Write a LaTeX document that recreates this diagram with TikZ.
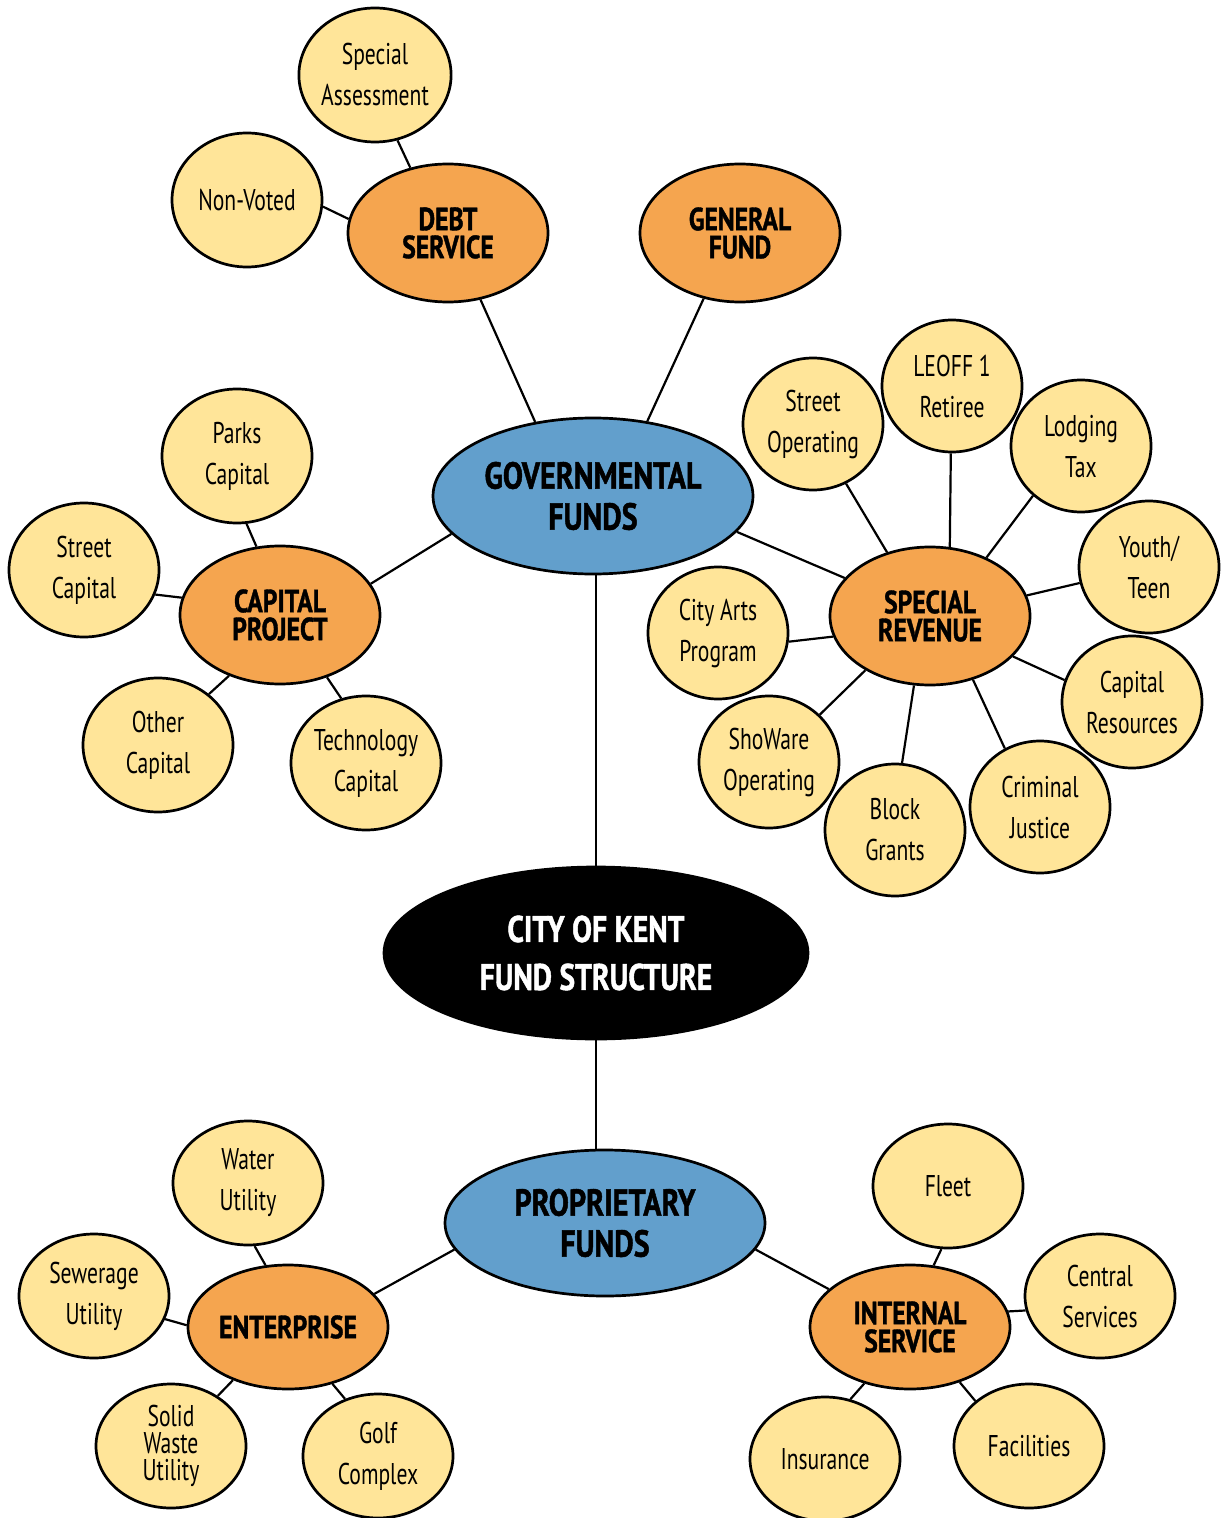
\documentclass[tikz,border=0pt]{standalone}
\usepackage{fontspec}
\setmainfont{PT Sans}[FakeStretch=0.72]
\newfontfamily\hdrfont{PT Sans}[FakeStretch=0.8,FakeBold=1.2]
\usepackage{tikz}
\usetikzlibrary{shapes.geometric}

\definecolor{leafyellow}{HTML}{FFE599}
\definecolor{suborange}{HTML}{F5A54F}
\definecolor{fundblue}{HTML}{629FCC}

\begin{document}
\begin{tikzpicture}[x=0.5pt,y=-0.5pt,
  every node/.style={ellipse,draw=black,line width=1.35pt,inner sep=0pt,align=center},
  leafnode/.style={fill=leafyellow,minimum width=75pt,minimum height=67pt,
    font=\fontsize{15}{20.5}\selectfont},
  smallleaf/.style={leafnode,minimum width=70pt,minimum height=66pt},
  lowleaf/.style={leafnode,minimum height=62pt},
  subfund/.style={fill=suborange,minimum width=100pt,minimum height=69pt,
    font=\hdrfont\bfseries\fontsize{16}{14}\selectfont},
  fundtype/.style={fill=fundblue,minimum width=160pt,minimum height=78pt,
    font=\hdrfont\bfseries\fontsize{18.8}{20.5}\selectfont},
  hub/.style={fill=black,text=white,minimum width=212pt,minimum height=86pt,
    font=\hdrfont\bfseries\fontsize{18.5}{24}\selectfont},
  link/.style={line width=1.1pt}]
\useasboundingbox (0,0) rectangle (1220,1518);

% Centre and fund types
\node[hub] (kent) at (596,953) {CITY OF KENT\\FUND STRUCTURE};
\node[fundtype] (gov) at (593,496) {GOVERNMENTAL\\FUNDS};
\node[fundtype,minimum height=73pt] (prop) at (605,1223) {PROPRIETARY\\FUNDS};

% Governmental groups
\node[subfund] (debt) at (448,233) {DEBT\\SERVICE};
\node[subfund] (genf) at (740,233) {GENERAL\\FUND};
\node[subfund] (cap) at (280,615) {CAPITAL\\PROJECT};
\node[subfund] (srev) at (930,616) {SPECIAL\\REVENUE};

% Debt service
\node[leafnode] (sa) at (375,75) {Special\\Assessment};
\node[leafnode] (nv) at (247,200) {Non-Voted};

% Capital project
\node[leafnode] (parks) at (237,456) {Parks\\Capital};
\node[leafnode] (scap) at (84,570) {Street\\Capital};
\node[leafnode] (ocap) at (158,745) {Other\\Capital};
\node[leafnode] (tcap) at (366,763) {Technology\\Capital};

% Special revenue
\node[smallleaf] (sop) at (813,424) {Street\\Operating};
\node[smallleaf] (leoff) at (952,386) {LEOFF 1\\Retiree};
\node[smallleaf] (lodg) at (1081,446) {Lodging\\Tax};
\node[smallleaf] (yt) at (1149,567) {Youth/\\Teen};
\node[smallleaf] (cres) at (1132,702) {Capital\\Resources};
\node[smallleaf] (cj) at (1040,807) {Criminal\\Justice};
\node[smallleaf] (bg) at (895,830) {Block\\Grants};
\node[smallleaf] (show) at (769,762) {ShoWare\\Operating};
\node[smallleaf] (arts) at (718,633) {City Arts\\Program};

% Proprietary groups
\node[subfund,minimum height=62pt] (ent) at (288,1327) {ENTERPRISE};
\node[subfund,minimum height=62pt] (isv) at (910,1327) {INTERNAL\\SERVICE};

\node[lowleaf] (water) at (248,1183) {Water\\Utility};
\node[lowleaf] (sew) at (94,1296) {Sewerage\\Utility};
\node[lowleaf,font=\fontsize{15}{13.5}\selectfont] (solid) at (171,1446) {Solid\\Waste\\Utility};
\node[lowleaf] (golf) at (378,1456) {Golf\\Complex};

\node[lowleaf] (fleet) at (948,1186) {Fleet};
\node[lowleaf] (csv) at (1100,1296) {Central\\Services};
\node[lowleaf] (ins) at (825,1459) {Insurance};
\node[lowleaf] (fac) at (1029,1446) {Facilities};

% Connectors
\draw[link] (kent.north) -- (kent.north |- gov.south);
\draw[link] (kent.south) -- (kent.south |- prop.north);
\foreach \a/\p/\b/\q in {gov/128/debt/296, gov/54/genf/241, gov/195/cap/19, gov/346/srev/156,
  debt/120/sa/289, debt/172/nv/355,
  cap/109/parks/278, cap/170/scap/341, cap/230/ocap/45, cap/307/tcap/111,
  srev/124/sop/299, srev/74/leoff/269, srev/46/lodg/226, srev/12/yt/193, srev/334/cres/162,
  srev/304/cj/121, srev/257/bg/84, srev/220/show/43, srev/192/arts/353,
  prop/190/ent/21, prop/350/isv/155,
  ent/110/water/276, ent/179/sew/342, ent/224/solid/47, ent/308/golf/120,
  isv/69/fleet/264, isv/9/csv/191, isv/231/ins/67, isv/312/fac/140}
  \draw[link] (\a.\p) -- (\b.\q);

\end{tikzpicture}
\end{document}
